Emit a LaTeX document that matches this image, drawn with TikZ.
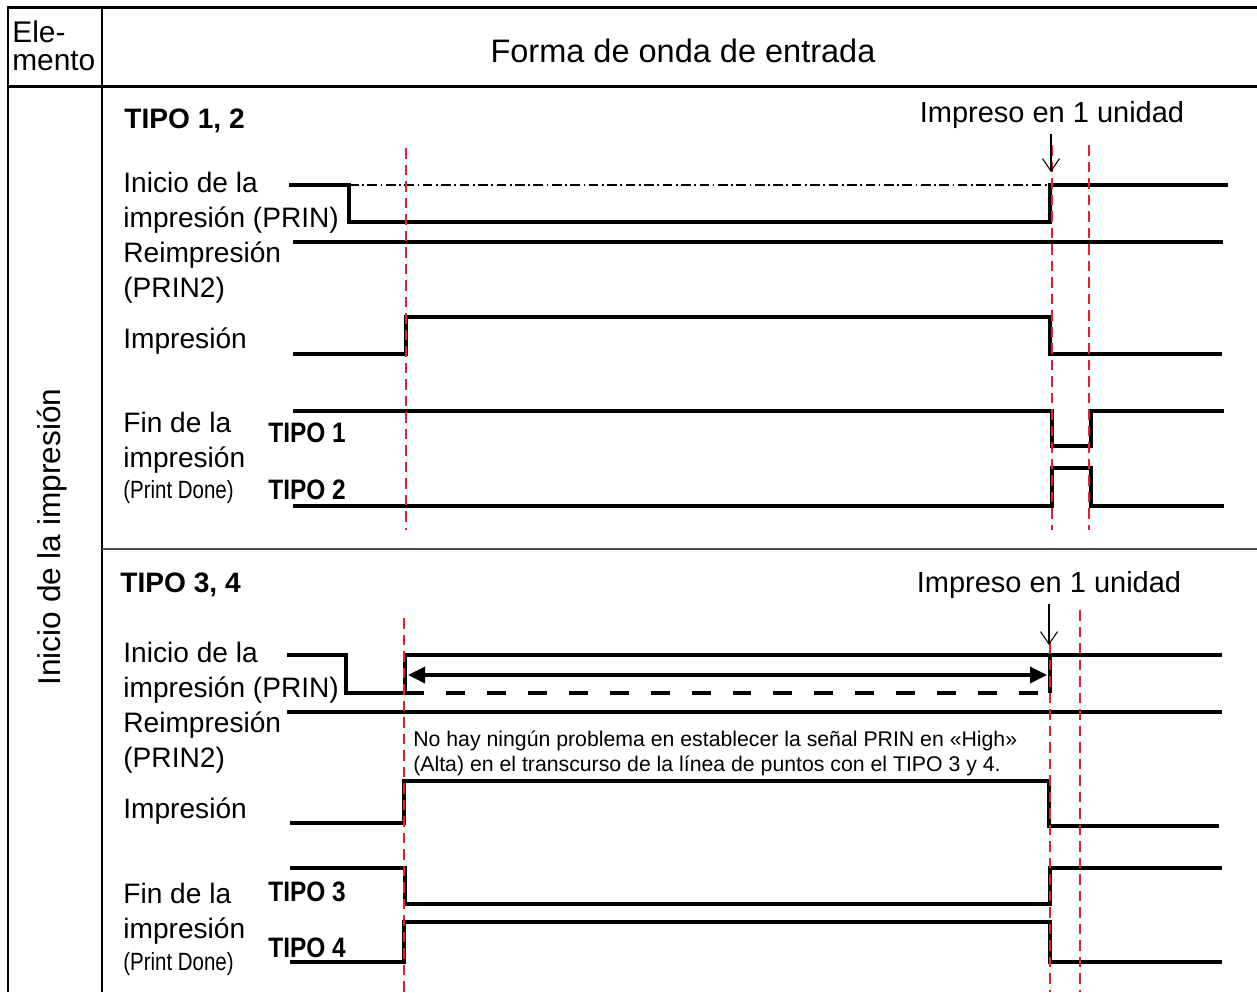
\documentclass[tikz,border=0pt]{standalone}
\usepackage{fontspec}
\setmainfont{Liberation Sans}
\newfontfamily\narrowfont[FakeStretch=0.82]{Liberation Sans}
\newfontfamily\tipofont[FakeStretch=0.87]{Liberation Sans}
\usetikzlibrary{arrows.meta}
\definecolor{mkRed}{HTML}{EE1C25}
\definecolor{mkGrey}{HTML}{4D4D4D}
\tikzset{
  % one unit is one pixel of the original sheet
  every picture/.append style = {x=0.02cm, y=-0.02cm, >={Triangle[length=3.4mm, width=3.2mm]}},
  frame/.style     = {line width=1.7pt, black},
  sig/.style       = {line width=2.3pt, black},
  tline/.style     = {mkRed, line width=1.3pt, dash pattern=on 6pt off 3.4pt},
  lbl/.style       = {font=\fontsize{16}{19.9}\selectfont, inner sep=0pt, align=left, anchor=base west},
  tlbl/.style      = {font=\fontsize{16}{19.9}\selectfont\bfseries, inner sep=0pt, anchor=base west},
  typlbl/.style    = {font={\tipofont\bfseries\fontsize{16}{19.9}\selectfont}, inner sep=0pt, anchor=base west},
  pdlbl/.style     = {font={\narrowfont\fontsize{14.2}{17}\selectfont}, inner sep=0pt, anchor=base west},
  unitlbl/.style   = {font=\fontsize{16.5}{19.9}\selectfont, inner sep=0pt, anchor=base},
  unitarrow/.style = {-{Straight Barb[length=2.5mm, width=3.4mm]}, line width=0.6pt},
}

\begin{document}
\begin{tikzpicture}[
    chain/.style={line width=0.7pt, dash pattern=on 5.5pt off 2pt on 1pt off 2pt},
    hold/.style={line width=2.2pt, dash pattern=on 10.8pt off 12.5pt},
    span/.style={<->, line width=2pt}]
  \useasboundingbox (0,0) rectangle (1257,992);
  % table frame
  \draw[frame] (1257,7) -- (8,7) -- (8,992);
  \draw[frame] (102,7) -- (102,992);
  \draw[frame] (8,86) -- (1257,86);
  \draw[line width=1.1pt, mkGrey] (102,549) -- (1257,549);
  % header and side label (multi-line nodes sit on their last baseline)
  \node[lbl, font=\fontsize{17}{15.4}\selectfont] (item) at (12,70) {Ele-\\mento};
  \node[unitlbl, font=\fontsize{18.5}{22}\selectfont] (wave) at (683,62) {Forma de onda de entrada};
  \node[inner sep=0pt, rotate=90, font=\fontsize{18}{22}\selectfont] (side) at (52,537) {Inicio de la impresión};

  % TIPO 1, 2
  \node[tlbl] (grpA) at (124,128) {TIPO 1, 2};
  \node[unitlbl] (unitA) at (1052,122) {Impreso en 1 unidad};
  \coordinate (tipA) at (1051,172);
  \node[lbl] (prinA) at (123,227) {Inicio de la\\impresión (PRIN)};
  \node[lbl] (prin2A) at (123,297) {Reimpresión\\(PRIN2)};
  \node[lbl] (printA) at (123,348) {Impresión};
  \node[lbl] (doneA) at (123,467) {Fin de la\\impresión};
  \node[pdlbl] (pdA) at (123,498) {(Print Done)};
  \node[typlbl] (t1) at (268,442) {TIPO 1};
  \node[typlbl] (t2) at (268,499) {TIPO 2};
  \draw[chain] (349,185) -- (1050,185);
  \draw[sig] (289,185) -- (349,185) -- (349,222) -- (1050,222) -- (1050,185) -- (1228,185);
  \draw[sig] (293,242) -- (1223,242);
  \draw[sig] (293,354) -- (406,354) -- (406,317) -- (1050,317) -- (1050,354) -- (1222,354);
  \draw[sig] (293,411) -- (1052,411) -- (1052,446) -- (1091,446) -- (1091,411) -- (1224,411);
  \draw[sig] (293,506) -- (1052,506) -- (1052,468) -- (1091,468) -- (1091,506) -- (1224,506);
  \draw[tline] (406,148) -- (406,530);
  \draw[tline] (1052,145) -- (1052,530);
  \draw[tline] (1089,145) -- (1089,530);
  \draw[unitarrow] ([yshift=-3pt]unitA.south -| tipA) -- (tipA);

  % TIPO 3, 4
  \node[tlbl] (grpB) at (120,592) {TIPO 3, 4};
  \node[unitlbl] (unitB) at (1049,592) {Impreso en 1 unidad};
  \coordinate (tipB) at (1049,645);
  \node[lbl] (prinB) at (123,697) {Inicio de la\\impresión (PRIN)};
  \node[lbl] (prin2B) at (123,767) {Reimpresión\\(PRIN2)};
  \node[lbl] (printB) at (123,818) {Impresión};
  \node[lbl] (doneB) at (123,938) {Fin de la\\impresión};
  \node[pdlbl] (pdB) at (123,970) {(Print Done)};
  \node[typlbl] (t3) at (268,901) {TIPO 3};
  \node[typlbl] (t4) at (268,957) {TIPO 4};
  \node[lbl, font=\fontsize{12.1}{14.2}\selectfont] (note) at (413,771)
    {No hay ningún problema en establecer la señal PRIN en «High»\\(Alta) en el transcurso de la línea de puntos con el TIPO 3 y 4.};
  \draw[sig] (287,655) -- (346,655) -- (346,693) -- (405,693);
  \draw[hold] (405,693) -- (1050,693);
  \draw[sig] (405,693) -- (405,655) -- (1222,655);
  \draw[sig] (1050,655) -- (1050,693);
  \draw[span] (408,675) -- (1047,675);
  \draw[sig] (287,712) -- (1222,712);
  \draw[sig] (290,823) -- (404,823) -- (404,781) -- (1049,781) -- (1049,826) -- (1219,826);
  \draw[sig] (290,868) -- (405,868) -- (405,904) -- (1050,904) -- (1050,868) -- (1222,868);
  \draw[sig] (290,962) -- (404,962) -- (404,922) -- (1050,922) -- (1050,962) -- (1222,962);
  \draw[tline] (404,618) -- (404,992);
  \draw[tline] (1050,643) -- (1050,992);
  \draw[tline] (1080,610) -- (1080,992);
  \draw[unitarrow] ([yshift=-3pt]unitB.south -| tipB) -- (tipB);
\end{tikzpicture}
\end{document}
